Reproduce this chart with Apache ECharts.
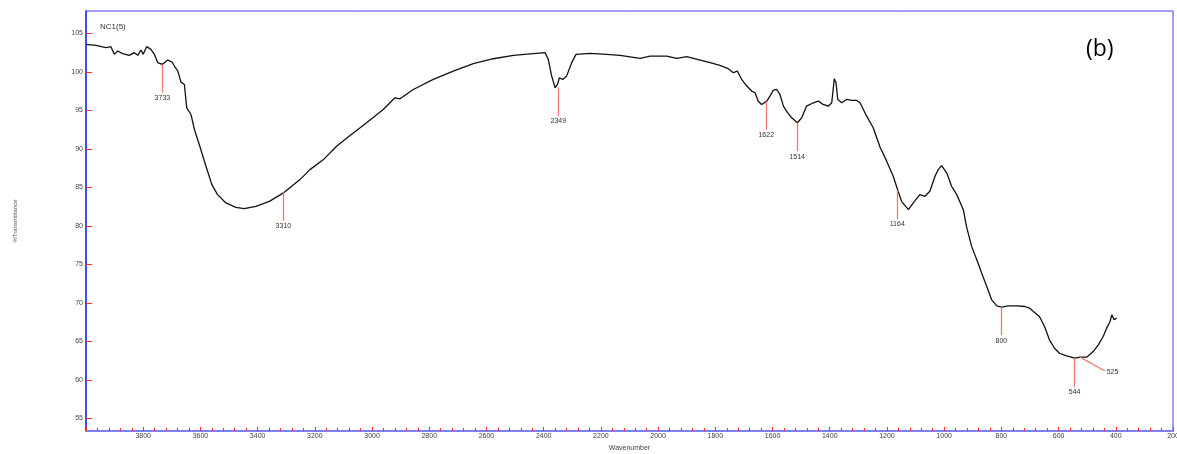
<!DOCTYPE html>
<html>
<head>
<meta charset="utf-8">
<script src="https://cdn.jsdelivr.net/npm/echarts@6.0.0/dist/echarts.min.js"></script>
<style>
  html, body { margin: 0; padding: 0; background: #fff; }
  #chart { width: 1177px; height: 454px; }
</style>
</head>
<body>
<div id="chart"></div>
<script>
// spectrum (wavenumber, %T)
const wavenumber = [
  4000, 3965, 3930, 3913, 3901, 3889, 3872, 3849, 3831, 3819, 3808, 3800, 3788, 3773, 3761, 3749,
  3734, 3726, 3714, 3699, 3691, 3679, 3668, 3656, 3648, 3633, 3621, 3604, 3586, 3575, 3560, 3540,
  3511, 3476, 3447, 3406, 3359, 3307, 3252, 3217, 3170, 3124, 3077, 3019, 2961, 2920, 2902, 2856,
  2786, 2716, 2646, 2576, 2506, 2436, 2395, 2384, 2372, 2360, 2352, 2345, 2334, 2320, 2302, 2287,
  2238, 2180, 2133, 2063, 2028, 1970, 1935, 1900, 1853, 1818, 1784, 1755, 1737, 1723, 1708, 1690,
  1673, 1661, 1650, 1638, 1620, 1609, 1597, 1586, 1574, 1562, 1551, 1533, 1513, 1498, 1481, 1457,
  1440, 1423, 1405, 1393, 1384, 1378, 1372, 1358, 1341, 1323, 1306, 1294, 1271, 1248, 1224, 1201,
  1178, 1161, 1149, 1125, 1108, 1085, 1067, 1050, 1032, 1021, 1009, 991, 974, 956, 933, 922,
  904, 886, 869, 851, 834, 816, 799, 776, 746, 717, 702, 688, 667, 649, 632, 614,
  597, 572, 543, 525, 502, 479, 461, 444, 432, 426, 420, 414, 406, 397
];
const transmittance = [
  103.57, 103.44, 103.14, 103.27, 102.27, 102.70, 102.36, 102.14, 102.49, 102.14, 102.83, 102.27, 103.27, 102.92, 102.27, 101.19,
  100.97, 101.19, 101.53, 101.27, 100.75, 100.10, 98.66, 98.36, 95.33, 94.46, 92.51, 90.56, 88.38, 87.08, 85.35, 84.05,
  82.97, 82.40, 82.23, 82.53, 83.18, 84.35, 86.00, 87.30, 88.60, 90.34, 91.73, 93.38, 95.11, 96.63, 96.50, 97.71,
  99.02, 100.10, 101.06, 101.70, 102.14, 102.36, 102.49, 101.62, 99.44, 97.93, 98.36, 99.23, 99.01, 99.44, 101.19, 102.27,
  102.40, 102.27, 102.14, 101.75, 102.05, 102.05, 101.75, 101.97, 101.53, 101.19, 100.84, 100.41, 99.89, 100.10, 99.01, 98.15,
  97.50, 97.28, 96.19, 95.76, 96.19, 96.84, 97.63, 97.71, 97.06, 95.54, 94.89, 94.03, 93.38, 94.03, 95.54, 95.98,
  96.19, 95.76, 95.54, 95.98, 99.11, 98.58, 96.41, 95.98, 96.41, 96.28, 96.28, 95.98, 94.24, 92.73, 90.20, 88.40,
  86.43, 84.48, 83.18, 82.10, 82.97, 84.05, 83.83, 84.48, 86.43, 87.30, 87.82, 86.88, 85.14, 84.05, 82.10, 79.93,
  77.33, 75.60, 73.87, 72.13, 70.39, 69.61, 69.44, 69.61, 69.61, 69.52, 69.31, 68.87, 68.22, 66.92, 65.19, 64.10,
  63.45, 63.11, 62.81, 62.94, 62.94, 63.67, 64.54, 65.62, 66.71, 66.49, 67.57, 68.44, 67.79, 68.01
];

// picked peaks
const peakLabels = ['3733', '3310', '2349', '1622', '1514', '1164', '800', '544', '525'];
const peakWn = [3733, 3310, 2349, 1622, 1514, 1164, 800, 544, 525];
const peakT = [100.97, 84.35, 98.0, 96.19, 93.38, 84.6, 69.5, 62.8, 62.94];

const yTicks = [55, 60, 65, 70, 75, 80, 85, 90, 95, 100, 105];

const leader = 3.7;
const peakLines = peakWn.map((wn, i) => {
  // the 525 leader goes off to the right instead of straight down
  const end = peakLabels[i] === '525' ? [wn - 87, peakT[i] - 1.8] : [wn, peakT[i] - leader];
  return [
    { coord: [wn, peakT[i]], label: { formatter: peakLabels[i] } },
    { coord: end }
  ];
});

const red = '#ff2a2a';
const chart = echarts.init(document.getElementById('chart'));
chart.setOption({
  animation: false,
  textStyle: { fontFamily: 'Liberation Sans' },
  title: [
    { text: 'NC1(5)', left: 95, top: 18, textStyle: { fontSize: 8, fontWeight: 'normal', color: '#333' } },
    { text: '(b)', left: 1081, top: 33, textStyle: { fontSize: 23, fontWeight: 'normal', color: '#000', fontFamily: 'Open Sans' } }
  ],
  grid: {
    left: 86, right: 4, top: 11, bottom: 23,
    containLabel: false, outerBoundsMode: 'none',
    show: true, borderColor: '#3d3dff', borderWidth: 1
  },
  xAxis: {
    type: 'value',
    inverse: true,
    min: 200,
    max: 4000,
    interval: 200,
    name: 'Wavenumber',
    nameLocation: 'middle',
    nameGap: 14,
    nameTextStyle: { fontSize: 7, color: '#444' },
    axisLine: { lineStyle: { color: '#8080ff', width: 2 } },
    axisTick: { inside: true, length: 4, lineStyle: { color: red } },
    minorTick: { show: true, splitNumber: 5, length: 3, lineStyle: { color: red } },
    axisLabel: {
      fontSize: 7, color: '#444', margin: 2,
      formatter: v => (v === 4000 ? '' : v)
    },
    splitLine: { show: false }
  },
  yAxis: {
    type: 'value',
    min: 53.35,
    max: 107.9,
    name: '%Transmittance',
    nameLocation: 'middle',
    nameGap: 68,
    nameTextStyle: { fontSize: 6, color: '#555' },
    axisLine: { show: true, lineStyle: { color: '#2b2bff', width: 1.5 } },
    axisTick: { inside: true, length: 6, customValues: yTicks, lineStyle: { color: red } },
    axisLabel: { fontSize: 7, color: '#444', margin: 3, customValues: yTicks },
    splitLine: { show: false }
  },
  series: [{
    type: 'line',
    data: wavenumber.map((w, i) => [w, transmittance[i]]),
    showSymbol: false,
    lineStyle: { color: '#111', width: 1.3 },
    silent: true,
    markLine: {
      silent: true,
      symbol: ['none', 'none'],
      lineStyle: { color: '#f07a70', width: 1.3, type: 'solid' },
      label: { show: true, position: 'end', distance: 2, fontSize: 7, color: '#333' },
      data: peakLines
    }
  }]
});
</script>
</body>
</html>
